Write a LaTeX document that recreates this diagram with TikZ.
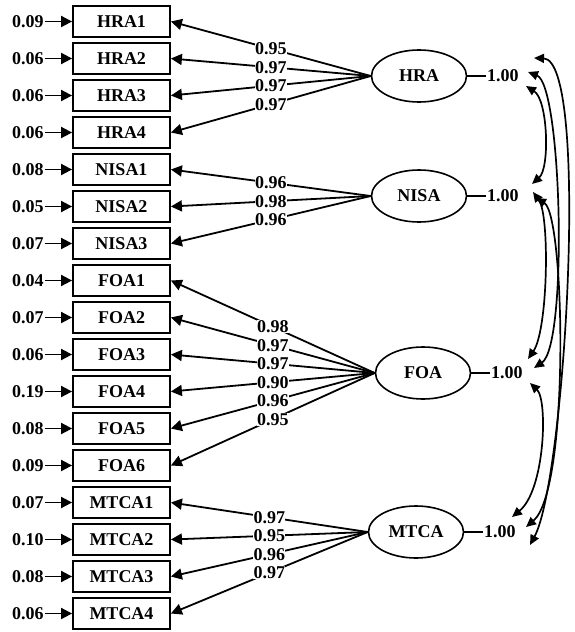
\documentclass[tikz,border=0pt]{standalone}
\usepackage{fontspec}
\setmainfont{Liberation Serif}
\usetikzlibrary{arrows.meta, positioning, shapes.geometric}

\tikzset{
	obsbox/.style = {draw, line width=1.8pt, minimum width=97pt, minimum height=31pt, inner sep=0pt},
	latent/.style = {draw, ellipse, line width=1.6pt, minimum width=95pt, minimum height=52pt, inner sep=0pt},
	path arrow/.style = {line width=1.8pt, -{Triangle[length=11pt, width=11pt]}},
	cov arrow/.style = {line width=1.7pt, {Triangle[length=10pt, width=9pt]}-{Triangle[length=10pt, width=9pt]}},
	loadlabel/.style = {fill=white, inner sep=0.3pt},
}

\begin{document}
\begin{tikzpicture}[x=1pt, y=-1pt, font=\fontsize{18}{20}\selectfont\bfseries]
	\useasboundingbox (0,0) rectangle (574,632);

	\def\boxX{121.5};
	\def\errX{28};
	\def\rowTop{21.5};
	\def\rowStep{37};

	\begin{scope}
		\foreach \i/\name/\err in {1/HRA1/0.09, 2/HRA2/0.06, 3/HRA3/0.06, 4/HRA4/0.06,
			5/NISA1/0.08, 6/NISA2/0.05, 7/NISA3/0.07,
			8/FOA1/0.04, 9/FOA2/0.07, 10/FOA3/0.06, 11/FOA4/0.19, 12/FOA5/0.08, 13/FOA6/0.09,
			14/MTCA1/0.07, 15/MTCA2/0.10, 16/MTCA3/0.08, 17/MTCA4/0.06}
		{
			\node [obsbox] (\name) at (\boxX, {\rowTop+\rowStep*(\i-1)}) {\name};
			\node [inner sep=1pt] (e-\name) at (\errX, {\rowTop+\rowStep*(\i-1)}) {\err};
			\draw [path arrow] (e-\name) -- (\name);
		}
	\end{scope}

	\begin{scope}
		\node [latent] (HRA) at (419,76) {HRA};
		\node [latent] (NISA) at (419,196) {NISA};
		\node [latent] (FOA) at (423,373) {FOA};
		\node [latent] (MTCA) at (416,532) {MTCA};
	\end{scope}

	\begin{scope}
		\foreach \fac/\name/\val in {HRA/HRA1/0.95, HRA/HRA2/0.97, HRA/HRA3/0.97, HRA/HRA4/0.97,
			NISA/NISA1/0.96, NISA/NISA2/0.98, NISA/NISA3/0.96,
			FOA/FOA1/0.98, FOA/FOA2/0.97, FOA/FOA3/0.97, FOA/FOA4/0.90, FOA/FOA5/0.96, FOA/FOA6/0.95,
			MTCA/MTCA1/0.97, MTCA/MTCA2/0.95, MTCA/MTCA3/0.96, MTCA/MTCA4/0.97}
		{
			\draw [path arrow] (\fac.west) -- node [loadlabel] (l-\name) {\val} (\name.east);
		}
	\end{scope}

	\begin{scope}
		\foreach \fac in {HRA, NISA, FOA, MTCA}
		{
			\node [right=19pt of \fac, inner sep=0.5pt] (v-\fac) {1.00};
			\draw [line width=1.8pt] (\fac) -- (v-\fac);
		}
	\end{scope}

	% covariance end points
	\coordinate (HRA-a) at (526,86);
	\coordinate (HRA-b) at (528,72);
	\coordinate (HRA-c) at (534,58);
	\coordinate (NISA-a) at (532,184);
	\coordinate (NISA-b) at (533,192);
	\coordinate (NISA-c) at (536,198);
	\coordinate (FOA-a) at (528,359);
	\coordinate (FOA-b) at (534,368);
	\coordinate (FOA-c) at (530,383);
	\coordinate (MTCA-a) at (512,517);
	\coordinate (MTCA-b) at (526,527);
	\coordinate (MTCA-c) at (530,545);

	\begin{scope}[cov arrow]
		\draw (HRA-a) .. controls (548,100) and (550,168) .. (NISA-a);
		\draw (HRA-b) .. controls (562,85) and (568,345) .. (FOA-b);
		\draw (HRA-c) .. controls (590,60) and (565,480) .. (MTCA-c);
		\draw (NISA-b) .. controls (550,215) and (548,330) .. (FOA-a);
		\draw (NISA-c) .. controls (565,215) and (570,490) .. (MTCA-b);
		\draw (FOA-c) .. controls (548,400) and (545,490) .. (MTCA-a);
	\end{scope}
\end{tikzpicture}
\end{document}
